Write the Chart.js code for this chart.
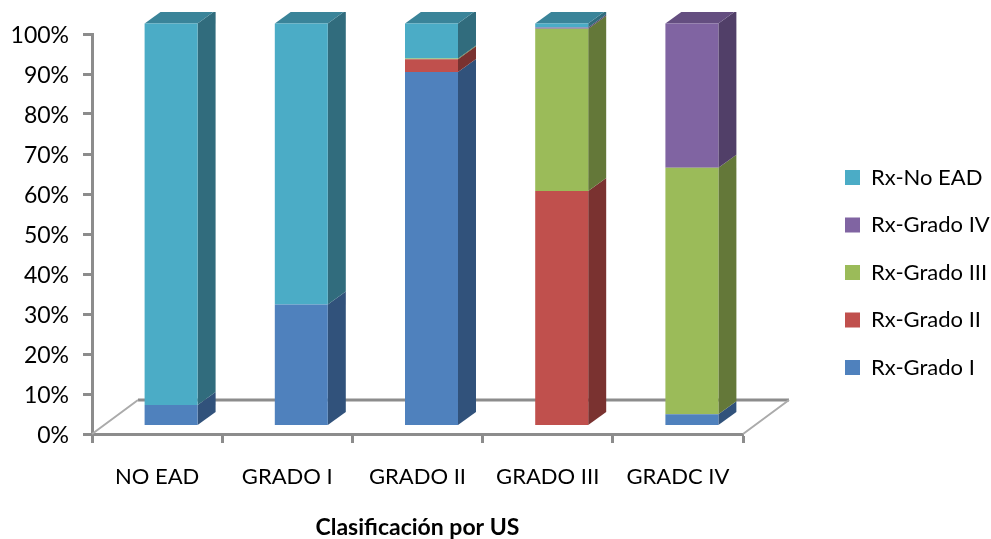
<!DOCTYPE html>
<html>
<head>
<meta charset="utf-8">
<title>Clasificación por US</title>
<script src="https://cdn.jsdelivr.net/npm/chart.js@4"></script>
<style>
    html, body { margin: 0; padding: 0; background: #fff; }
    canvas { display: block; }
</style>
</head>
<body>
<canvas id="chart" width="991" height="539"></canvas>
<script>
const categories = ['NO EAD', 'GRADO I', 'GRADO II', 'GRADO III', 'GRADC IV'];
const gradoI = [5, 30, 87.9, 0, 2.7];
const gradoII = [0, 0, 3.2, 58.3, 0];
const gradoIII = [0, 0, 0.2, 40.4, 61.4];
const gradoIV = [0, 0, 0, 0.3, 35.9];
const noEad = [95, 70, 8.7, 1, 0];

// front colour, side colour, top colour of each series
const palette = {
    blue: ['#4F81BD', '#31527B', '#3D6593'],
    red: ['#C0504D', '#7A3230', '#964040'],
    green: ['#9BBB59', '#647839', '#7A9246'],
    purple: ['#8064A2', '#513F68', '#644E80'],
    teal: ['#4BACC6', '#316C7D', '#3A8499']
};

const AXIS_GREY = '#8C8C8C';
const AXIS_WIDTH = 3;
const BAR_SHIFT_X = 14;   // bars stand inside the floor, not on the front edge
const BAR_DEPTH_X = 18;
const BAR_DEPTH_Y = 13;
const FLOOR_DEPTH_X = 46;
const FLOOR_DEPTH_Y = 34;
const CLIP_TOP = 12;
const LEGEND_STRIP = 248;
const LEGEND_LEFT = 845;

const makeSeries = (label, data, colors) => ({
    label,
    data,
    yAxisID: 'yBars',
    backgroundColor: colors[0],
    sideColor: colors[1],
    topColor: colors[2],
    borderWidth: 0,
    clip: false,
    categoryPercentage: 1,
    barPercentage: 0.407
});

function face(ctx, color, pts) {
    ctx.fillStyle = color;
    ctx.beginPath();
    pts.forEach((p, i) => (i ? ctx.lineTo(p[0], p[1]) : ctx.moveTo(p[0], p[1])));
    ctx.closePath();
    ctx.fill();
}

// Excel-style 3D look: floor lines, then side and top faces of every bar
const bars3d = {
    id: 'bars3d',
    beforeUpdate(chart) {
        // legend keeps the whole strip right of the plot
        const legend = chart.legend;
        if (legend.wideFit) return;
        const fit = legend.fit;
        legend.wideFit = true;
        legend.fit = function () {
            fit.call(this);
            this.width = LEGEND_STRIP;
        };
    },
    afterLayout(chart) {
        const legend = chart.legend;
        legend.left = LEGEND_LEFT - legend.options.labels.padding;
        legend.top -= 14;
        legend.bottom -= 14;
    },
    beforeDatasetsDraw(chart) {
        const { ctx, chartArea: { left, right, bottom } } = chart;
        ctx.save();
        ctx.lineWidth = AXIS_WIDTH;
        ctx.strokeStyle = AXIS_GREY;
        ctx.beginPath();
        ctx.moveTo(left + FLOOR_DEPTH_X, bottom - FLOOR_DEPTH_Y);
        ctx.lineTo(right + FLOOR_DEPTH_X, bottom - FLOOR_DEPTH_Y);
        ctx.stroke();
        ctx.lineWidth = 2;
        ctx.strokeStyle = '#ABABAB';
        ctx.beginPath();
        ctx.moveTo(left, bottom);
        ctx.lineTo(left + FLOOR_DEPTH_X, bottom - FLOOR_DEPTH_Y);
        ctx.moveTo(right, bottom);
        ctx.lineTo(right + FLOOR_DEPTH_X, bottom - FLOOR_DEPTH_Y);
        ctx.stroke();
        ctx.restore();

        ctx.save();
        ctx.beginPath();
        ctx.rect(0, CLIP_TOP, chart.width, chart.height - CLIP_TOP);
        ctx.clip();
        ctx.translate(BAR_SHIFT_X, 0);

        const topIndex = {};
        chart.data.datasets.forEach((ds, d) => {
            ds.data.forEach((v, i) => { if (v > 0) topIndex[i] = d; });
        });
        chart.data.datasets.forEach((ds, d) => {
            chart.getDatasetMeta(d).data.forEach((bar, i) => {
                if (!ds.data[i]) return;
                const l = bar.x - bar.width / 2;
                const r = bar.x + bar.width / 2;
                face(ctx, ds.sideColor, [
                    [r, bar.y],
                    [r + BAR_DEPTH_X, bar.y - BAR_DEPTH_Y],
                    [r + BAR_DEPTH_X, bar.base - BAR_DEPTH_Y],
                    [r, bar.base]
                ]);
                if (topIndex[i] === d) {
                    face(ctx, ds.topColor, [
                        [l, bar.y],
                        [l + BAR_DEPTH_X, bar.y - BAR_DEPTH_Y],
                        [r + BAR_DEPTH_X, bar.y - BAR_DEPTH_Y],
                        [r, bar.y]
                    ]);
                }
            });
        });
    },
    afterDatasetsDraw(chart) {
        chart.ctx.restore();
    }
};

new Chart(document.getElementById('chart'), {
    type: 'bar',
    data: {
        labels: categories,
        datasets: [
            makeSeries('Rx-Grado I', gradoI, palette.blue),
            makeSeries('Rx-Grado II', gradoII, palette.red),
            makeSeries('Rx-Grado III', gradoIII, palette.green),
            makeSeries('Rx-Grado IV', gradoIV, palette.purple),
            makeSeries('Rx-No EAD', noEad, palette.teal)
        ]
    },
    plugins: [bars3d],
    options: {
        responsive: false,
        animation: false,
        layout: { padding: { top: 34, left: 0, right: 0, bottom: 0 } },
        plugins: {
            tooltip: { enabled: false },
            legend: {
                position: 'right',
                reverse: true,
                labels: {
                    boxWidth: 15,
                    boxHeight: 15,
                    padding: 25.5,
                    color: '#000',
                    font: { family: 'Lato', size: 22 }
                }
            }
        },
        scales: {
            x: {
                stacked: true,
                afterFit(scale) { scale.height = 105; },
                border: { color: AXIS_GREY, width: AXIS_WIDTH },
                grid: { drawOnChartArea: false, color: AXIS_GREY, tickColor: AXIS_GREY, tickWidth: AXIS_WIDTH, tickLength: 9 },
                ticks: { color: '#000', padding: 21, maxRotation: 0, font: { family: 'Lato', size: 22 } },
                title: {
                    display: true,
                    text: 'Clasificación por US',
                    color: '#000',
                    padding: { top: 14, bottom: 0 },
                    font: { family: 'Lato', size: 23, weight: 'bold', lineHeight: 1 }
                }
            },
            y: {
                min: 0,
                max: 100,
                afterFit(scale) { scale.width = 92; },
                border: { color: AXIS_GREY, width: AXIS_WIDTH },
                grid: { drawOnChartArea: false, color: AXIS_GREY, tickColor: AXIS_GREY, tickWidth: AXIS_WIDTH, tickLength: 9 },
                ticks: {
                    stepSize: 10,
                    color: '#000',
                    padding: 14,
                    labelOffset: 2,
                    font: { family: 'Lato', size: 23 },
                    callback: v => v + '%'
                }
            },
            // the bars sit a little higher than the axis in the 3D view
            yBars: {
                display: false,
                stacked: true,
                min: -2.24,
                max: 97.38
            }
        }
    }
});
</script>
</body>
</html>
